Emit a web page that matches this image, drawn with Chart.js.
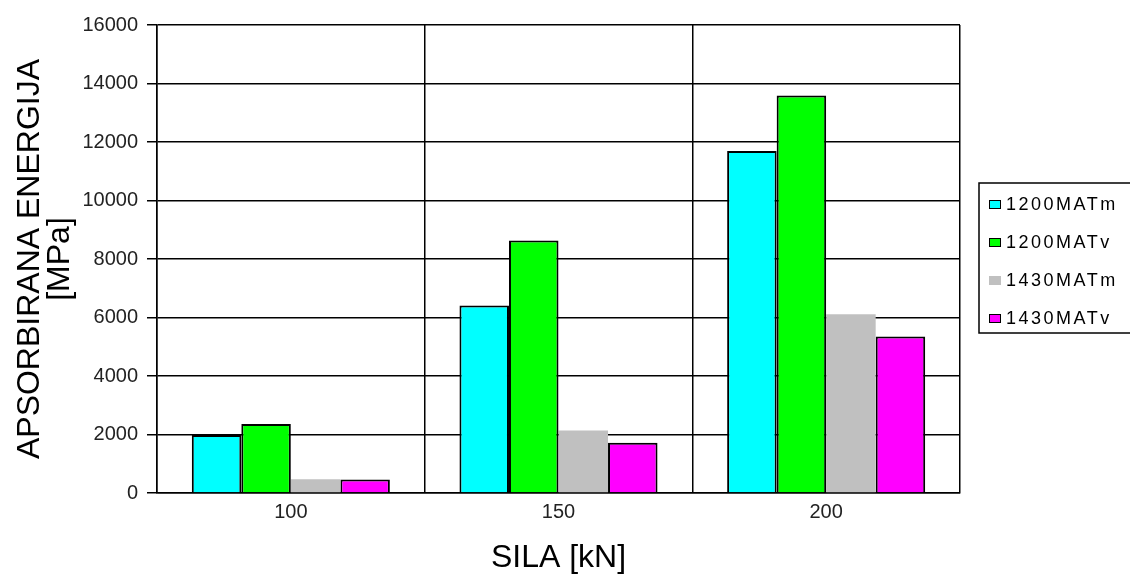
<!DOCTYPE html>
<html><head><meta charset="utf-8">
<script src="https://cdn.jsdelivr.net/npm/chart.js@4/dist/chart.umd.min.js"></script>
<style>html,body{margin:0;padding:0;background:#fff}#wrap{width:1130px;height:581px}</style>
</head><body><div id="wrap"><canvas id="c" width="1130" height="581"></canvas></div>
<script>
const categories = ['100', '150', '200'];
const s1200MATm = [1980, 6410, 11690];
const s1200MATv = [2360, 8630, 13590];
const s1430MATm = [470, 2140, 6110];
const s1430MATv = [460, 1720, 5350];
const seriesNames = ['1200MATm', '1200MATv', '1430MATm', '1430MATv'];
const colors = ['#00ffff', '#00ff00', '#c0c0c0', '#ff00ff'];
const yTitle = ['APSORBIRANA ENERGIJA', '[MPa]'];
const xTitle = 'SILA [kN]';

const FONT = '"Liberation Sans", Arial, sans-serif';
const seriesData = [s1200MATm, s1200MATv, s1430MATm, s1430MATv];

const legendPlugin = {
  id: 'boxLegend',
  afterDraw(chart) {
    const ctx = chart.ctx;
    const x0 = 979, y0 = 183, w = 160, h = 150;
    ctx.save();
    ctx.fillStyle = '#fff';
    ctx.fillRect(x0, y0, w, h);
    ctx.strokeStyle = '#000';
    ctx.lineWidth = 1.5;
    ctx.strokeRect(x0, y0, w, h);
    ctx.font = '18px ' + FONT;
    ctx.textBaseline = 'middle';
    chart.data.datasets.forEach((ds, i) => {
      const cy = y0 + 21 + i * 38;
      ctx.fillStyle = ds.backgroundColor;
      ctx.fillRect(989, cy - 4, 12, 9);
      if (ds.borderWidth > 0) { ctx.strokeStyle = '#000'; ctx.lineWidth = 1; ctx.strokeRect(989.5, cy - 3.5, 11, 8); }
      ctx.fillStyle = '#000';
      ctx.letterSpacing = '2.5px';
      ctx.fillText(ds.label, 1006, cy + 1);
    });
    ctx.restore();
  }
};

new Chart(document.getElementById('c'), {
  type: 'bar',
  data: {
    labels: categories,
    datasets: seriesNames.map((n, i) => ({
      label: n,
      data: seriesData[i],
      backgroundColor: colors[i],
      borderColor: '#000',
      borderWidth: i === 2 ? 0 : 2,
      categoryPercentage: 0.74,
      barPercentage: 1.0
    }))
  },
  options: {
    responsive: false,
    animation: false,
    devicePixelRatio: 1,
    layout: { padding: { left: 11, right: 170, top: 25, bottom: 0 } },
    plugins: { legend: { display: false }, tooltip: { enabled: false } },
    scales: {
      x: {
        grid: { color: '#000', lineWidth: 1.5, drawTicks: false, offset: true },
        border: { color: '#000', width: 1.5 },
        ticks: { color: '#222', font: { family: FONT, size: 20 }, padding: 7 },
        title: { display: true, text: xTitle, color: '#000', font: { family: FONT, size: 32 }, padding: { top: 10 } },
        afterFit(a) { a.height = 88; }
      },
      y: {
        min: 0, max: 16000,
        ticks: { stepSize: 2000, color: '#222', font: { family: FONT, size: 20 }, padding: 9,
                 callback: (v) => String(v) },
        grid: { color: '#000', lineWidth: 1.5, tickLength: 10, tickColor: '#000' },
        border: { color: '#000', width: 1.5 },
        title: { display: true, text: yTitle, color: '#000', font: { family: FONT, size: 32, lineHeight: 0.95 }, padding: { bottom: 6 } },
        afterFit(a) { a.width = 146; }
      }
    }
  },
  plugins: [legendPlugin]
});
</script></body></html>
